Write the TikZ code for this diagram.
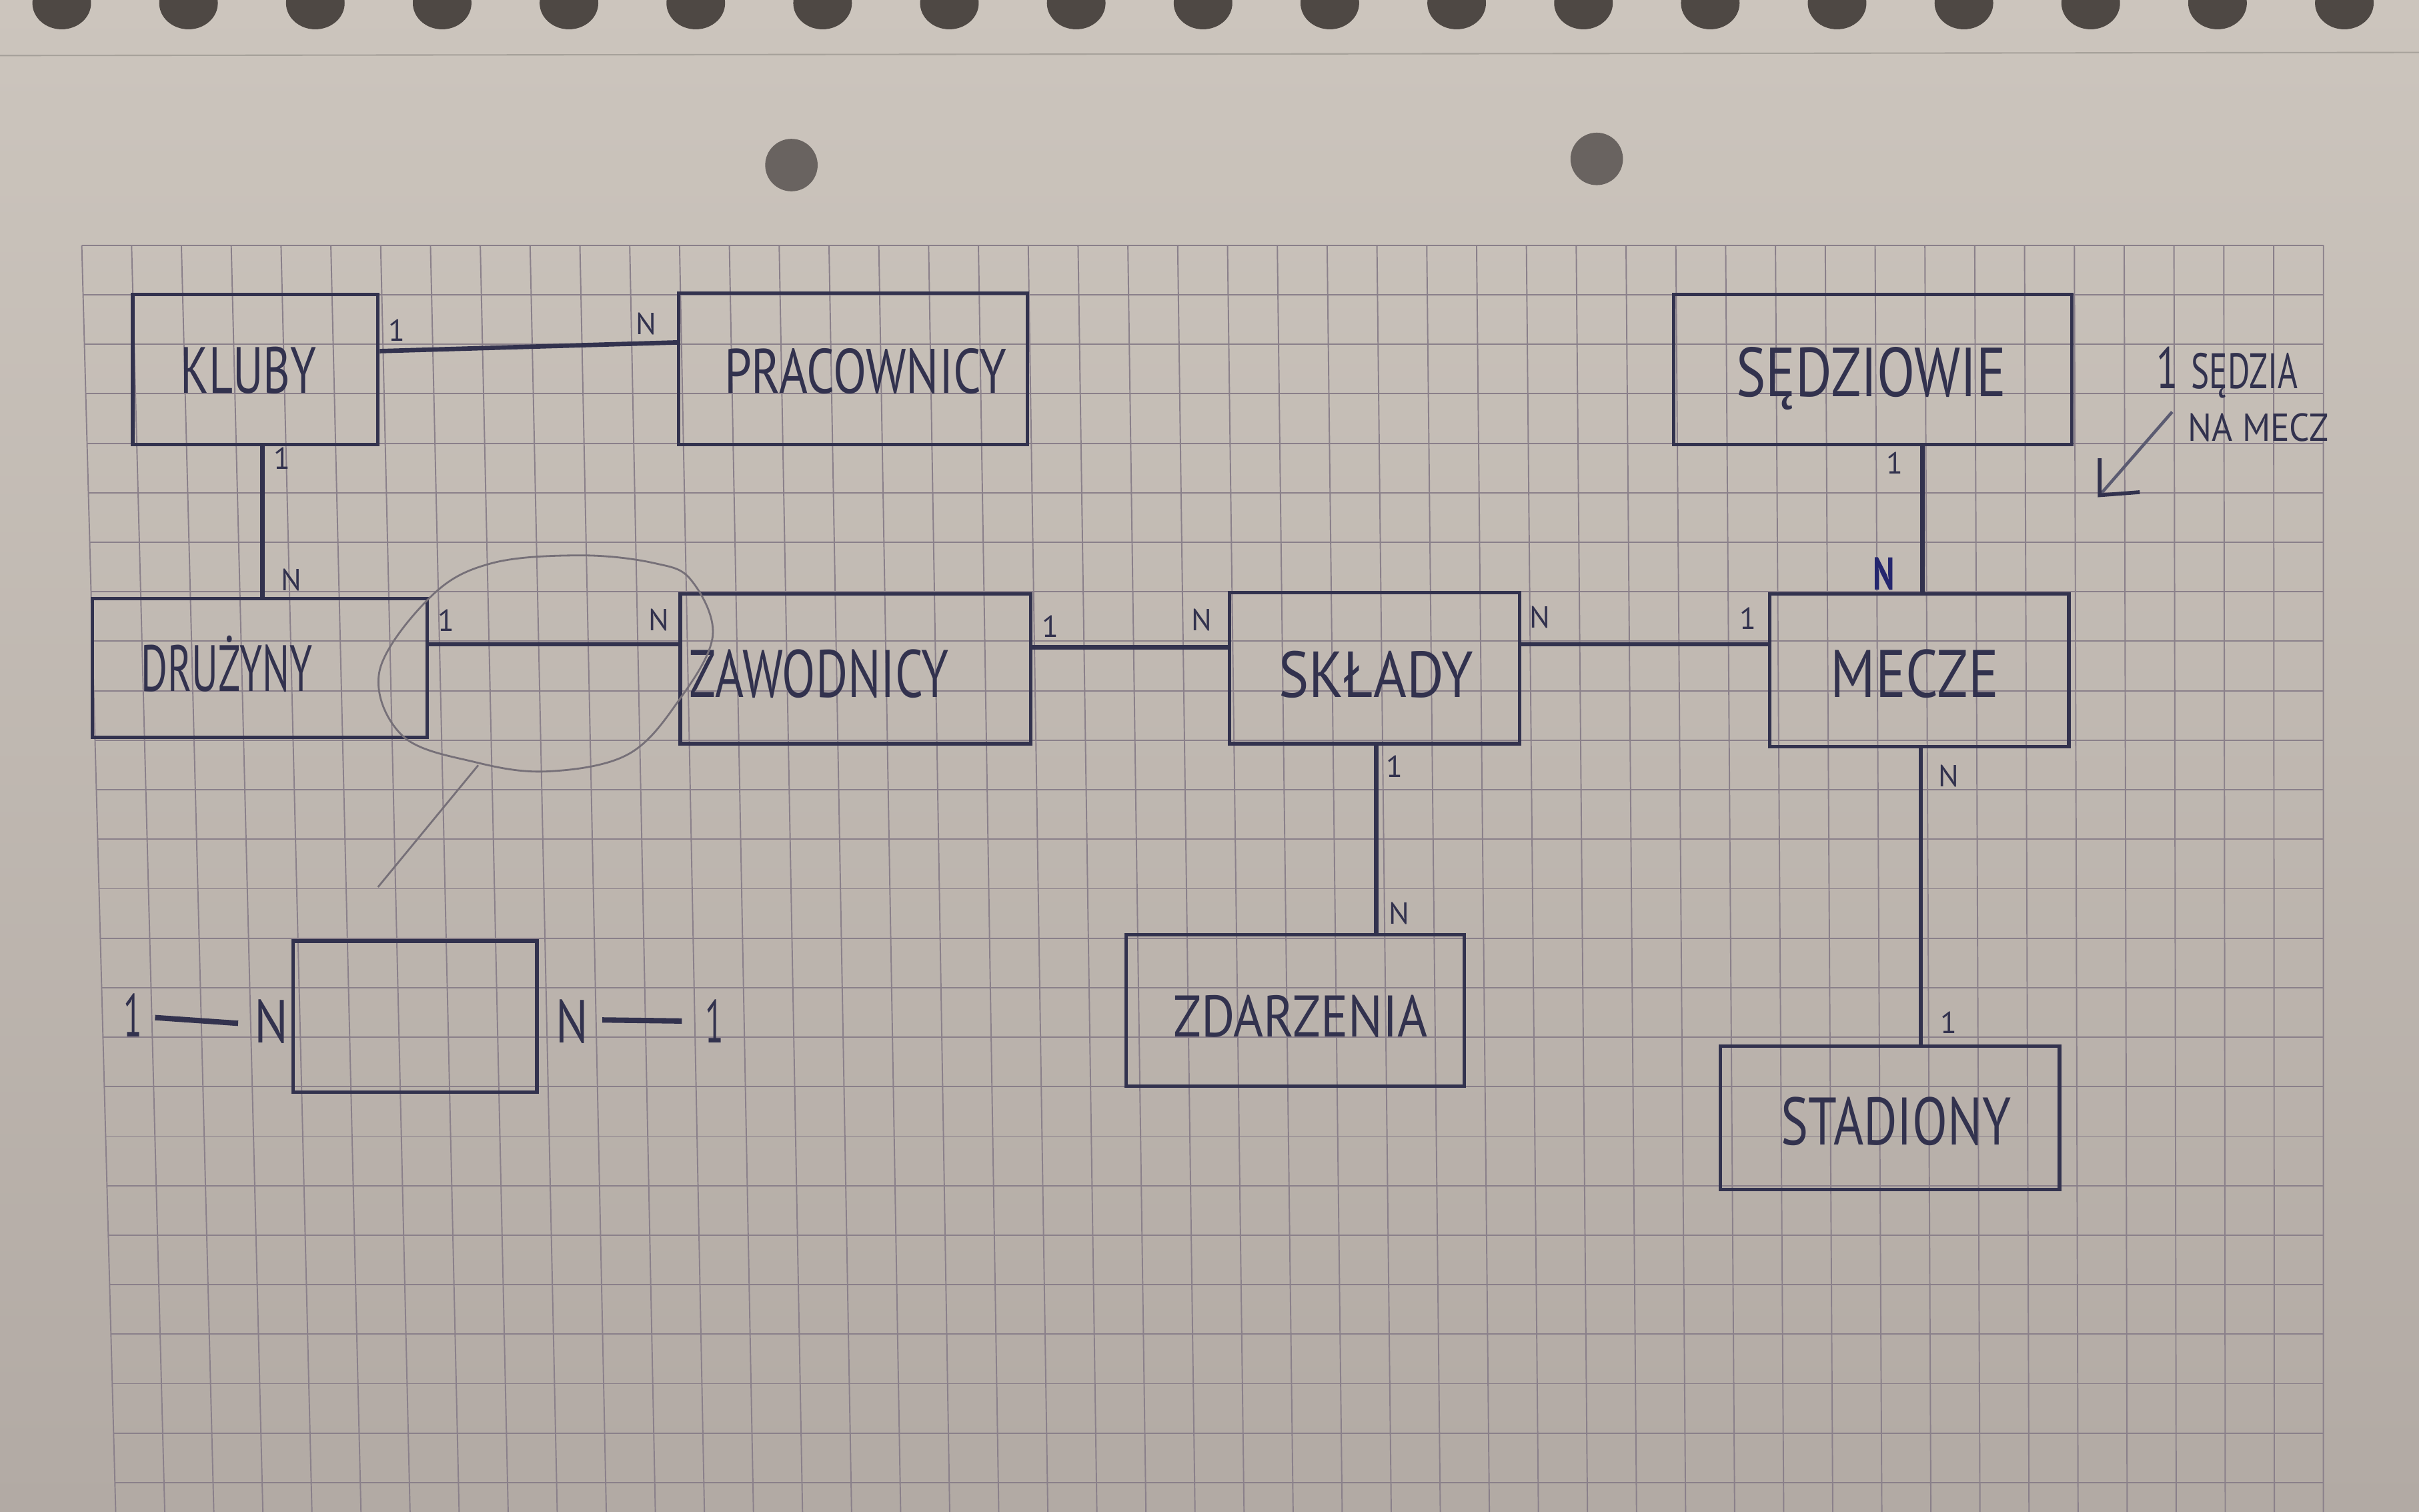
\documentclass[tikz,border=0pt]{standalone}
\usepackage{fontspec}
\usepackage{graphicx}
\usetikzlibrary{calc,fit}
\newfontfamily\hand{PT Sans}
\newlength\upx \setlength\upx{0.2313mm}
\newcommand\hw[3]{\resizebox{#1\upx}{#2\upx}{\hand #3}}
\definecolor{paperT}{RGB}{204,197,189}
\definecolor{paperB}{RGB}{178,170,164}
\definecolor{gridc}{RGB}{138,128,138}
\definecolor{ink}{RGB}{50,50,78}
\definecolor{inkb}{RGB}{36,38,110}
\definecolor{pencil}{RGB}{118,112,120}
\definecolor{hole}{RGB}{78,72,68}
\begin{document}
\begin{tikzpicture}[x=0.2313mm, y=-0.2313mm,
  box/.style={draw=ink, line width=1.5pt, inner sep=0pt},
  conn/.style={draw=ink, line width=1.9pt},
  card/.style={text=ink, inner sep=0pt, font=\hand\fontsize{13}{13}\selectfont},
  ent/.style={text=ink, inner sep=0pt, anchor=base},
  gridline/.style={draw=gridc, line width=0.55pt},
  pencilline/.style={draw=pencil, line width=0.8pt}
]
\useasboundingbox (0,0) rectangle (1568,980);
% paper
\shade[top color=paperT, bottom color=paperB] (0,0) rectangle (1568,980);
\draw[draw=paperT!82!black, line width=0.6pt] (0,36) -- (1568,34);
\foreach \i in {0,...,18} \fill[hole] ({40+82.2*\i},2) ellipse [x radius=19, y radius=17];
\fill[hole!85!white] (513,107) circle [radius=17];
\fill[hole!85!white] (1035,103) circle [radius=17];
% grid
\foreach \i in {0,...,45} \draw[gridline] ({53+32.29*\i},159) -- ({75+31.8*\i},980);
\foreach \j in {0,...,25} \draw[gridline] ({53+0.86*\j},{159+32.08*\j}) -- (1506,{159+32.08*\j});

% entities
\node[box, fit={(86,191) (245,288)}] (kluby) {};
\node[box, fit={(440,190) (666,288)}] (prac) {};
\node[box, fit={(60,388) (277,478)}] (druz) {};
\node[box, fit={(441,385) (668,482)}] (zaw) {};
\node[box, fit={(797,384) (985,482)}] (skl) {};
\node[box, fit={(1147,385) (1341,484)}] (mecze) {};
\node[box, fit={(1085,191) (1343,288)}] (sedz) {};
\node[box, fit={(730,606) (949,704)}] (zdarz) {};
\node[box, fit={(1115,678) (1335,771)}] (stad) {};
\node[box, fit={(190,610) (348,708)}] (tmpl) {};

\node[ent] (kluby-t) at (161,255) {\hw{88}{30}{KLUBY}};
\node[ent] (prac-t) at (561,255) {\hw{183}{29}{PRACOWNICY}};
\node[ent] (druz-t) at (147,448) {\hw{111}{36}{DRUŻYNY}};
\node[ent] (zaw-t) at (531,452) {\hw{168}{31}{ZAWODNICY}};
\node[ent] (skl-t) at (892,452) {\hw{126}{30}{SKŁADY}};
\node[ent] (mecze-t) at (1241,452) {\hw{109}{31}{MECZE}};
\node[ent] (sedz-t) at (1213,257) {\hw{175}{32}{SĘDZIOWIE}};
\node[ent] (zdarz-t) at (843,672) {\hw{165}{27}{ZDARZENIA}};
\node[ent] (stad-t) at (1229,742) {\hw{149}{31}{STADIONY}};

% connectors
\coordinate (k-e) at ($(kluby.north east)!0.38!(kluby.south east)$);
\coordinate (p-w) at ($(prac.north west)!0.33!(prac.south west)$);
\draw[conn] (k-e) -- (p-w);
\coordinate (k-s) at ($(kluby.south west)!0.528!(kluby.south east)$);
\draw[conn] (k-s) -- (k-s |- druz.north);
\coordinate (d-e) at ($(druz.north east)!0.333!(druz.south east)$);
\draw[conn] (d-e) -- (d-e -| zaw.west);
\coordinate (z-e) at ($(zaw.north east)!0.36!(zaw.south east)$);
\draw[conn] (z-e) -- (z-e -| skl.west);
\coordinate (s-e) at ($(skl.north east)!0.347!(skl.south east)$);
\draw[conn] (s-e) -- (s-e -| mecze.west);
\coordinate (sd-s) at ($(sedz.south west)!0.624!(sedz.south east)$);
\draw[conn] (sd-s) -- (sd-s |- mecze.north);
\coordinate (s-s) at ($(skl.south west)!0.505!(skl.south east)$);
\draw[conn] (s-s) -- (s-s |- zdarz.north);
\coordinate (m-s) at ($(mecze.south west)!0.505!(mecze.south east)$);
\draw[conn] (m-s) -- (m-s |- stad.north);

% cardinalities
\node[card] (c1) at (257,214) {1};
\node[card] (c2) at (419,210) {N};
\node[card] (c3) at (183,297) {1};
\node[card] (c4) at (189,376) {N};
\node[card] (c5) at (289,402) {1};
\node[card] (c6) at (427,402) {N};
\node[card] (c7) at (681,406) {1};
\node[card] (c8) at (779,402) {N};
\node[card] (c9) at (998,400) {N};
\node[card] (c10) at (1133,401) {1};
\node[card] (c11) at (1228,300) {1};
\node[card, text=inkb] (c12) at (1221,372) {\hw{14}{21}{\bfseries N}};
\node[card] (c13) at (904,497) {1};
\node[card] (c14) at (907,592) {N};
\node[card] (c15) at (1263,503) {N};
\node[card] (c16) at (1263,663) {1};

% template relation
\node[ent] (t1l) at (86,672) {\hw{12}{28}{1}};
\node[ent] (tNl) at (176,676) {\hw{22}{28}{N}};
\node[ent] (tNr) at (371,676) {\hw{21}{28}{N}};
\node[ent] (t1r) at (463,676) {\hw{12}{28}{1}};
\draw[conn, line width=2.3pt, shorten <=1.9mm, shorten >=2.4mm] (t1l.east |- 0,659) -- (tNl.west |- 0,664);
\draw[conn, line width=2.3pt, shorten <=2mm, shorten >=3.4mm] (tNr.east |- 0,661) -- (t1r.west |- 0,662);

% pencil circle and pointer
\draw[pencilline] plot[smooth cycle, tension=0.6] coordinates {(377,360) (424,365) (448,376) (462,412) (440,454) (407,489) (355,500) (308,494) (261,477) (246,435) (280,386) (319,365)};
\draw[pencilline] (310,496) -- (245,575);

% annotation
\node[ent] (ann1) at (1405,252) {\hw{14}{27}{1}};
\node[ent, anchor=base west] (ann2) at (1420,252) {\hw{69}{23}{SĘDZIA}};
\node[ent, anchor=base west] (ann3) at (1418,286) {\hw{91}{18}{NA MECZ}};
\coordinate (arr-s) at (1408,267);
\coordinate (arr-t) at (1361,321);
\draw[draw=ink!80!white, line width=1.3pt] (arr-s) -- (arr-t);
\draw[draw=ink, line width=1.6pt] (arr-t) ++(0,-24) -- (arr-t) -- ++(26,-2);
\end{tikzpicture}
\end{document}
